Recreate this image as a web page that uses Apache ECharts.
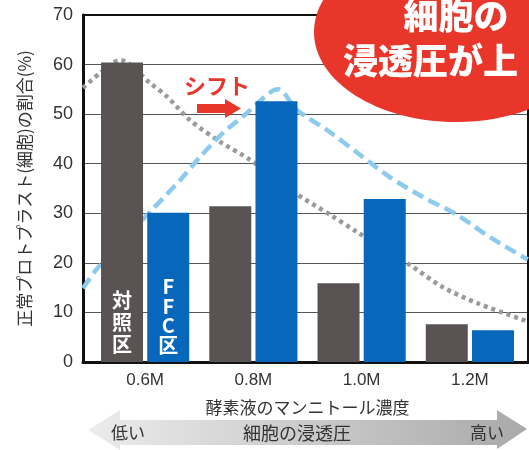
<!DOCTYPE html>
<html>
<head>
<meta charset="utf-8">
<script src="https://cdn.jsdelivr.net/npm/echarts@6/dist/echarts.min.js"></script>
<style>
  html, body { margin: 0; padding: 0; background: #fff; }
  #chart { width: 529px; height: 450px; }
</style>
</head>
<body>
<div id="chart"></div>
<script>
// マンニトール濃度ごとの正常プロトプラスト割合
const categories = ['0.6M', '0.8M', '1.0M', '1.2M'];
const controlValues = [60.4, 31.4, 15.9, 7.6];   // 対照区
const ffcValues = [30.1, 52.6, 32.9, 6.4];       // FFC区
const yTicks = [0, 10, 20, 30, 40, 50, 60, 70];

// 分布のイメージ曲線（横軸はモル濃度）
const controlCurveM = [0.4855, 0.517, 0.554, 0.609, 0.641, 0.683, 0.739, 0.794, 0.877, 0.942, 0.992, 1.089, 1.150, 1.213, 1.298, 1.307];
const controlCurveV = [55.3, 58.3, 60.9, 56.3, 53.5, 48.8, 44.4, 40.8, 34.1, 29.7, 26.2, 19.6, 15.1, 11.9, 8.5, 8.1];
const ffcCurveM = [0.4855, 0.513, 0.613, 0.665, 0.702, 0.744, 0.788, 0.829, 0.846, 0.881, 0.936, 0.992, 1.052, 1.113, 1.176, 1.237, 1.298, 1.307];
const ffcCurveV = [14.9, 19.0, 30.7, 36.7, 41.4, 46.2, 50.2, 54.2, 55.0, 50.8, 46.8, 42.2, 37.3, 33.3, 29.7, 25.2, 21.2, 20.7];
const curveRange = [0.4855, 1.3073];

const JP = '"Noto Sans CJK JP", "Noto Sans", sans-serif';
const NUM = '"Liberation Sans", Arial, sans-serif';
const GRAY = '#5a5354';
const BLUE = '#0767ba';
const RED = '#e8362b';

const pair = (xs, ys) => xs.map((x, i) => [x, ys[i]]);

const chart = echarts.init(document.getElementById('chart'), null, { renderer: 'canvas' });

chart.setOption({
  animation: false,
  backgroundColor: '#fff',
  grid: [
    { left: 83, right: 1, top: 15, bottom: 88, show: true, borderColor: '#111', borderWidth: 2, z: 1 },
    { left: 91, right: 5, top: 15, bottom: 88 }
  ],
  xAxis: [
    {
      gridIndex: 0, type: 'value', min: curveRange[0], max: curveRange[1],
      axisLine: { show: true, onZero: false, lineStyle: { color: '#111', width: 3 } },
      axisTick: { show: false }, axisLabel: { show: false }, splitLine: { show: false }
    },
    {
      gridIndex: 1, type: 'category', data: categories,
      axisLine: { show: false }, axisTick: { show: false },
      axisLabel: { fontFamily: NUM, fontSize: 17, color: '#333', margin: 10 },
      name: '酵素液のマンニトール濃度', nameLocation: 'middle', nameGap: 37,
      nameTextStyle: { fontFamily: JP, fontSize: 17, color: '#333' }
    }
  ],
  yAxis: [
    {
      gridIndex: 0, type: 'value', min: yTicks[0], max: yTicks[yTicks.length - 1], interval: 10,
      axisLine: { show: true, lineStyle: { color: '#111', width: 3 } },
      axisTick: { show: false },
      axisLabel: { fontFamily: NUM, fontSize: 18, color: '#333', margin: 10 },
      splitLine: { show: true, lineStyle: { color: '#555', width: 1 } },
      name: '正常プロトプラスト(細胞)の割合(%)', nameLocation: 'middle', nameGap: 50,
      nameTextStyle: { fontFamily: JP, fontSize: 17, color: '#333' }
    },
    {
      gridIndex: 1, type: 'value', min: 0, max: 70, show: false
    }
  ],
  series: [
    {
      type: 'line', xAxisIndex: 0, yAxisIndex: 0, data: pair(controlCurveM, controlCurveV),
      smooth: 0.3, symbol: 'none', z: 2,
      lineStyle: { color: '#9a9a9a', width: 4.5, type: [4, 4] }
    },
    {
      type: 'line', xAxisIndex: 0, yAxisIndex: 0, data: pair(ffcCurveM, ffcCurveV),
      smooth: 0.3, symbol: 'none', z: 2,
      lineStyle: { color: '#8ccaee', width: 4.5, type: [12, 6] }
    },
    {
      name: '対照区', type: 'bar', xAxisIndex: 1, yAxisIndex: 1, barWidth: 42, barGap: '10%', z: 3,
      itemStyle: { color: GRAY },
      data: controlValues.map((v, i) => i === 0 ? {
        value: v,
        label: { show: true, position: 'insideBottom', distance: 7, formatter: '対\n照\n区',
          fontFamily: JP, fontSize: 20, fontWeight: 'bold', color: '#fff', lineHeight: 22 }
      } : v)
    },
    {
      name: 'FFC区', type: 'bar', xAxisIndex: 1, yAxisIndex: 1, barWidth: 42, barGap: '10%', z: 3,
      itemStyle: { color: BLUE },
      data: ffcValues.map((v, i) => i === 0 ? {
        value: v,
        label: { show: true, position: 'insideBottom', distance: 7, formatter: 'F\nF\nC\n区',
          fontFamily: JP, fontSize: 20, fontWeight: 'bold', color: '#fff', lineHeight: 19.5 }
      } : v)
    }
  ],
  graphic: [
    // 右上の吹き出し
    { type: 'ellipse', z: 100, shape: { cx: 456, cy: 32, rx: 142, ry: 90 }, style: { fill: RED } },
    { type: 'text', z: 101, x: 456, y: 16, style: {
        text: '細胞の', fill: '#fff', font: '900 35px ' + JP, textAlign: 'center', textVerticalAlign: 'middle' } },
    { type: 'text', z: 101, x: 343, y: 61, style: {
        text: '浸透圧が上', fill: '#fff', font: '900 35px ' + JP, textAlign: 'left', textVerticalAlign: 'middle' } },
    // シフト矢印
    { type: 'text', z: 101, x: 184, y: 86, style: {
        text: 'シフト', fill: RED, font: 'bold 22px ' + JP, textAlign: 'left', textVerticalAlign: 'middle' } },
    { type: 'polygon', z: 101, shape: { points: [[197, 104], [225, 104], [225, 99], [241, 108.5], [225, 118], [225, 113], [197, 113]] },
      style: { fill: RED } },
    // 浸透圧の両矢印
    { type: 'polygon', z: 50, shape: { points: [[88, 430], [120, 410], [120, 420], [497, 420], [497, 410], [527, 429], [497, 449], [497, 445], [120, 445], [120, 450]] },
      style: { fill: new echarts.graphic.LinearGradient(0, 0, 1, 0, [
        { offset: 0, color: '#ececec' }, { offset: 1, color: '#a9a9a9' }]) } },
    { type: 'text', z: 51, x: 128, y: 433, style: {
        text: '低い', fill: '#333', font: '17px ' + JP, textAlign: 'center', textVerticalAlign: 'middle' } },
    { type: 'text', z: 51, x: 297, y: 433, style: {
        text: '細胞の浸透圧', fill: '#333', font: '18px ' + JP, textAlign: 'center', textVerticalAlign: 'middle' } },
    { type: 'text', z: 51, x: 487, y: 433, style: {
        text: '高い', fill: '#333', font: '17px ' + JP, textAlign: 'center', textVerticalAlign: 'middle' } }
  ]
});
</script>
</body>
</html>
